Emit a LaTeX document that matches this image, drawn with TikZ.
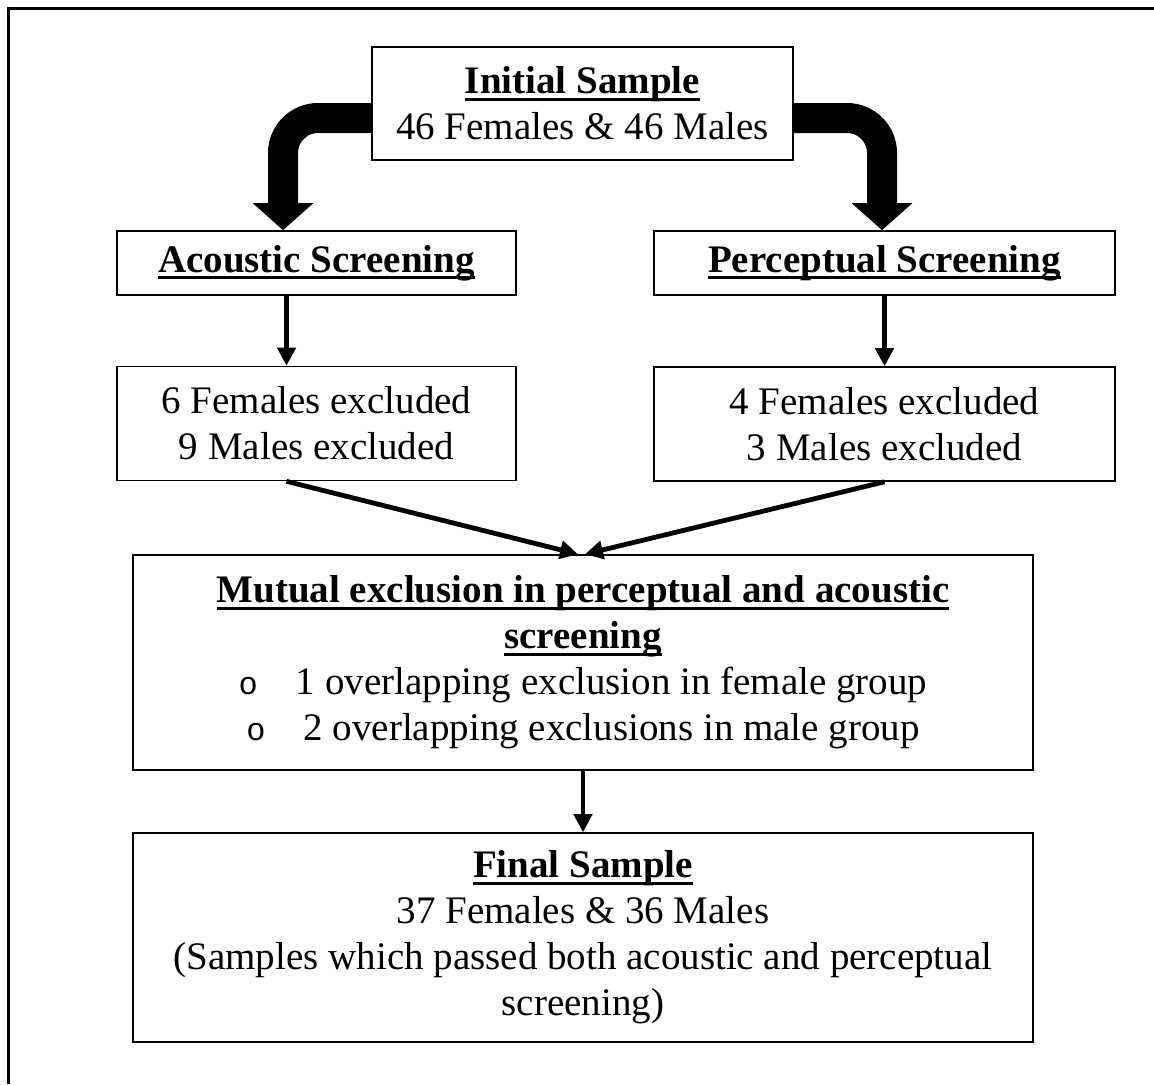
\documentclass[tikz,border=0pt]{standalone}
\usepackage{fontspec}
\setmainfont{Liberation Serif}
\setmonofont{Liberation Mono}
\usetikzlibrary{arrows.meta}
\newcommand{\undl}[1]{\leavevmode\setbox0=\hbox{#1}\rlap{\copy0}\rule[-3.5pt]{\wd0}{1.4pt}}
\newcommand{\bul}{{\fontsize{16}{16}\selectfont\ttfamily o}\hspace{19pt}}
\tikzset{
	box/.style={draw,line width=0.8pt,rectangle,align=center,inner sep=0pt},
	fat arrow/.style={line width=15pt,rounded corners=17.5pt,-{Triangle[length=13.5pt,width=29.5pt]}},
	thin arrow/.style={line width=2.4pt,-{Triangle[length=9pt,width=9pt]}}
}

\begin{document}
\begin{tikzpicture}[x=0.5pt,y=-0.5pt,font=\fontsize{19.5}{23}\selectfont]
	\useasboundingbox (0,0) rectangle (1154,1084);
	\draw[line width=1.5pt] (1154,8) -- (8,8) -- (8,1084);
	\node [box,minimum width=210.5pt,minimum height=56.5pt] (init) at (582.5,103.5)
		{\textbf{\undl{Initial Sample}}\\46 Females \& 46 Males};
	\node [box,minimum width=199.5pt,minimum height=32pt] (acou) at (316.5,263)
		{\textbf{\undl{Acoustic Screening}}};
	\node [box,minimum width=230.5pt,minimum height=32pt] (perc) at (884.5,263)
		{\textbf{\undl{Perceptual Screening}}};
	\node [box,minimum width=199.5pt,minimum height=57pt] (exclA) at (316.5,423.5)
		{6 Females excluded\\9 Males excluded};
	\node [box,minimum width=230.5pt,minimum height=57pt] (exclP) at (884.5,424)
		{4 Females excluded\\3 Males excluded};
	\node [box,minimum width=450pt,minimum height=107.5pt] (mutual) at (583,662.5)
		{\textbf{\undl{Mutual exclusion in perceptual and acoustic}}\\
		 \textbf{\undl{screening}}\\
		 \bul 1 overlapping exclusion in female group\\
		 \bul 2 overlapping exclusions in male group};
	\node [box,minimum width=450pt,minimum height=104.5pt] (final) at (583,937.5)
		{\textbf{\undl{Final Sample}}\\37 Females \& 36 Males\\
		 (Samples which passed both acoustic and perceptual\\screening)};
	% arrows
	\draw[fat arrow] ([yshift=-7.25pt]init.west) -| ([xshift=-16.75pt]acou.north);
	\draw[fat arrow] ([yshift=-7.25pt]init.east) -| ([xshift=-1.25pt]perc.north);
	\draw[thin arrow] ([xshift=-15pt]acou.south) -- ([xshift=-15pt]exclA.north);
	\draw[thin arrow] (perc.south) -- (exclP.north);
	\draw[thin arrow] ([xshift=-15pt]exclA.south) -- ([xshift=-2.5pt]mutual.north);
	\draw[thin arrow] (exclP.south) -- ([xshift=1pt]mutual.north);
	\draw[thin arrow] (mutual.south) -- (final.north);
\end{tikzpicture}
\end{document}
